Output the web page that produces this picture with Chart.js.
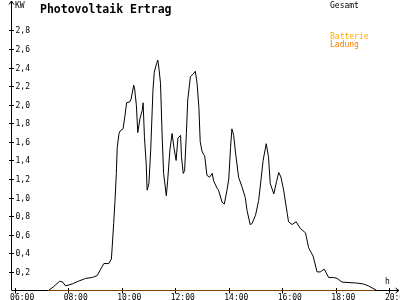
<!DOCTYPE html>
<html>
<head>
<meta charset="utf-8">
<script src="https://cdn.jsdelivr.net/npm/chart.js@4"></script>
<style>
  html, body { margin: 0; padding: 0; background: #fff; }
  #wrap { width: 400px; height: 300px; }
</style>
</head>
<body>
<div id="wrap"><canvas id="chart" width="400" height="300"></canvas></div>
<script>
// ── Data ──────────────────────────────────────────────────────────────────────

const times = [
    "06:00", "07:16", "07:27", "07:41", "07:48", "07:54", "08:09", "08:23", "08:39", "08:54",
    "09:05", "09:13", "09:20", "09:31", "09:37", "09:42", "09:45", "09:48", "09:50", "09:54",
    "09:57", "10:03", "10:07", "10:11", "10:18", "10:21", "10:27", "10:29", "10:33", "10:36",
    "10:41", "10:46", "10:48", "10:51", "10:55", "10:57", "11:01", "11:05", "11:10", "11:13",
    "11:18", "11:21", "11:24", "11:27", "11:31", "11:34", "11:40", "11:43", "11:48", "11:53",
    "11:57", "12:02", "12:06", "12:12", "12:14", "12:18", "12:21", "12:25", "12:28", "12:34",
    "12:40", "12:45", "12:49", "12:53", "12:56", "13:00", "13:04", "13:06", "13:11", "13:17",
    "13:23", "13:26", "13:34", "13:37", "13:45", "13:50", "13:56", "14:00", "14:04", "14:07",
    "14:11", "14:15", "14:22", "14:30", "14:37", "14:41", "14:48", "14:52", "15:00", "15:07",
    "15:12", "15:17", "15:24", "15:29", "15:33", "15:41", "15:47", "15:52", "15:57", "16:03",
    "16:11", "16:14", "16:22", "16:31", "16:40", "16:52", "16:59", "17:09", "17:18", "17:25",
    "17:34", "17:44", "17:55", "18:03", "18:14", "18:47", "19:02", "19:13", "19:28", "19:32",
    "20:20",
];
const gesamt = [
    0.00, 0.00, 0.04, 0.10, 0.09, 0.05, 0.07, 0.10, 0.13, 0.14,
    0.16, 0.23, 0.29, 0.29, 0.34, 0.72, 0.97, 1.26, 1.54, 1.69,
    1.72, 1.74, 1.87, 2.02, 2.03, 2.06, 2.21, 2.17, 1.99, 1.70,
    1.85, 1.94, 2.02, 1.65, 1.36, 1.08, 1.15, 1.51, 2.15, 2.35,
    2.44, 2.48, 2.37, 2.23, 1.62, 1.26, 1.02, 1.18, 1.51, 1.69,
    1.54, 1.40, 1.64, 1.67, 1.44, 1.26, 1.29, 1.69, 2.05, 2.30,
    2.33, 2.36, 2.23, 1.97, 1.60, 1.50, 1.46, 1.45, 1.24, 1.22,
    1.26, 1.18, 1.10, 1.08, 0.95, 0.93, 1.08, 1.20, 1.54, 1.74,
    1.67, 1.49, 1.22, 1.11, 1.00, 0.86, 0.71, 0.72, 0.81, 0.97,
    1.18, 1.40, 1.58, 1.44, 1.15, 1.04, 1.17, 1.27, 1.22, 1.08,
    0.83, 0.74, 0.71, 0.74, 0.67, 0.62, 0.46, 0.37, 0.20, 0.20,
    0.23, 0.14, 0.14, 0.13, 0.09, 0.08, 0.07, 0.05, 0.01, 0.00,
    0.00,
];

// Battery charge sits flat on zero while the sun is up
const ladungTimes = ["07:14", "19:28"];
const ladung      = [0, 0];

const xTicks = ["06:00", "08:00", "10:00", "12:00", "14:00", "16:00", "18:00", "20:00"];
const yTicks = [0.2, 0.4, 0.6, 0.8, 1.0, 1.2, 1.4, 1.6, 1.8, 2.0, 2.2, 2.4, 2.6, 2.8];

const legend = [
    { label: "Gesamt",   color: "#000000", y: 7.5 },
    { label: "Batterie", color: "#ffaa00", y: 38.5 },
    { label: "Ladung",   color: "#ff7f00", y: 46.5 },
];

// ── Helpers ───────────────────────────────────────────────────────────────────

// "HH:MM" → minutes since midnight, used as the linear x value
function toMin(str) {
    const [h, m] = str.split(":").map(Number);
    return h * 60 + m;
}

const MONO = '"DejaVu Sans Mono", "Liberation Mono", monospace';

// ── Axis / label plugin ───────────────────────────────────────────────────────

const axesPlugin = {
    id: "axes",
    beforeDatasetsDraw(chart) {
        const { ctx, chartArea: a, scales: { x, y } } = chart;
        const x0 = a.left, y0 = y.getPixelForValue(0);
        ctx.save();
        ctx.strokeStyle = "#000";
        ctx.lineWidth = 1;
        ctx.beginPath();
        // y axis + arrow
        ctx.moveTo(x0, y0);
        ctx.lineTo(x0, 1);
        ctx.moveTo(x0 - 2.5, 4.5); ctx.lineTo(x0, 1); ctx.lineTo(x0 + 2.5, 4.5);
        // x axis + arrow
        ctx.moveTo(x0, y0);
        ctx.lineTo(399, y0);
        ctx.moveTo(395.5, y0 - 2.5); ctx.lineTo(399, y0); ctx.lineTo(395.5, y0 + 2.5);
        // tick marks crossing the axes
        yTicks.forEach(v => {
            const py = Math.round(y.getPixelForValue(v)) + 0.5;
            ctx.moveTo(x0 - 2.5, py); ctx.lineTo(x0 + 2.5, py);
        });
        xTicks.forEach(t => {
            const px = Math.round(x.getPixelForValue(toMin(t))) + 0.5;
            ctx.moveTo(px, y0 - 2.5); ctx.lineTo(px, y0 + 3);
        });
        ctx.stroke();
        ctx.restore();
    },
    afterDraw(chart) {
        const { ctx, chartArea: a, scales: { x, y } } = chart;
        ctx.save();
        ctx.fillStyle = "#000";
        ctx.font = "8px " + MONO;
        ctx.textAlign = "left";
        ctx.textBaseline = "alphabetic";

        yTicks.forEach(v => {
            const py = y.getPixelForValue(v);
            ctx.fillText(v.toFixed(1).replace(".", ","), a.left + 4, py + 3);
        });
        xTicks.forEach(t => {
            const px = x.getPixelForValue(toMin(t));
            ctx.fillText(t, px - 4.5, 299.5);
        });

        ctx.fillText("KW", 15, 7.5);
        ctx.fillText("h", 385, 283.5);

        legend.forEach(l => {
            ctx.fillStyle = l.color;
            ctx.fillText(l.label, 330, l.y);
        });

        ctx.fillStyle = "#000";
        ctx.font = "bold 11.5px " + MONO;
        ctx.fillText("Photovoltaik Ertrag", 40, 12.5);
        ctx.restore();
    },
};

// ── Chart ─────────────────────────────────────────────────────────────────────

new Chart(document.getElementById("chart").getContext("2d"), {
    type: "line",
    data: {
        datasets: [
            {
                label: "Ladung",
                data: ladungTimes.map((t, i) => ({ x: toMin(t), y: ladung[i] })),
                borderColor: "#ff8000",
                borderWidth: 1,
            },
            {
                label: "Gesamt",
                data: times.map((t, i) => ({ x: toMin(t), y: gesamt[i] })),
                borderColor: "#000000",
                borderWidth: 1,
            },
        ],
    },
    options: {
        responsive: false,
        animation: false,
        layout: { padding: { left: 11.5, right: 1.7, top: 2.5, bottom: 9.5 } },
        elements: {
            point: { radius: 0 },
            line:  { tension: 0 },
        },
        scales: {
            x: { type: "linear", display: false, min: 353, max: 1220 },
            y: { type: "linear", display: false, min: 0,   max: 3.1 },
        },
        plugins: {
            legend:  { display: false },
            tooltip: { enabled: false },
        },
    },
    plugins: [axesPlugin],
});
</script>
</body>
</html>
